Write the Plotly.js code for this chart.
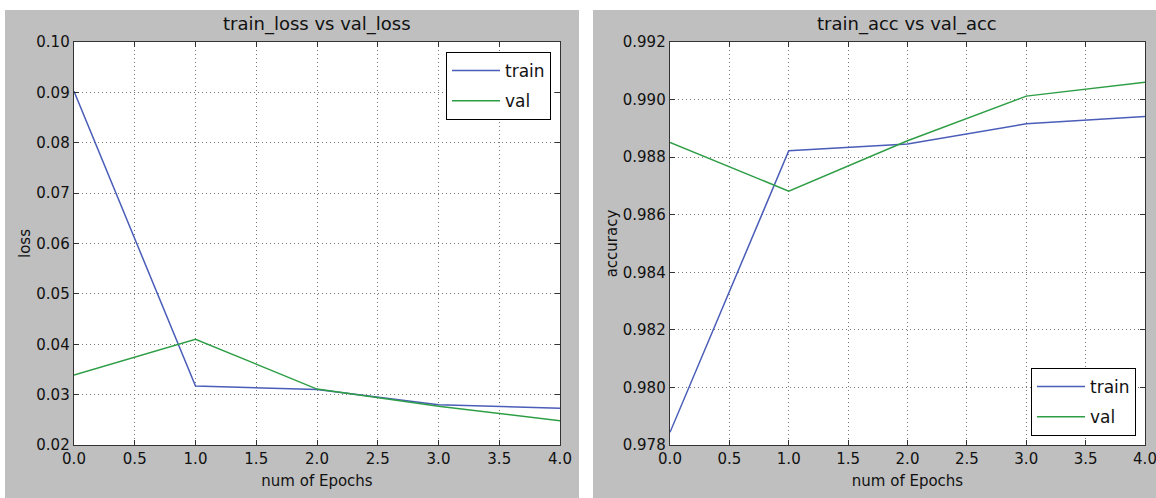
<!DOCTYPE html>
<html>
<head>
<meta charset="utf-8">
<script src="https://cdn.plot.ly/plotly-3.0.1.min.js"></script>
<style>html,body{margin:0;padding:0;background:#fff;} #chart{width:1156px;height:498px;}</style>
</head>
<body>
<div id="chart"></div>
<script>
// ---- data ----
const epochs = [0, 1, 2, 3, 4];
const trainLoss = [0.0902, 0.0317, 0.0310, 0.0280, 0.0273];
const valLoss   = [0.0339, 0.0410, 0.0311, 0.0277, 0.0248];
const trainAcc  = [0.97844, 0.98822, 0.98846, 0.98916, 0.98941];
const valAcc    = [0.98851, 0.98682, 0.98857, 0.99012, 0.99060];
const seriesNames = ['train', 'val'];
const titles = ['train_loss vs val_loss', 'train_acc vs val_acc'];
const xLabel = 'num of Epochs';
const yLabels = ['loss', 'accuracy'];
const xTickVals = [0, 0.5, 1, 1.5, 2, 2.5, 3, 3.5, 4];
const xTickText = ['0.0', '0.5', '1.0', '1.5', '2.0', '2.5', '3.0', '3.5', '4.0'];

// ---- geometry (figure pixels) ----
const W = 1156, H = 498;
const M = {l: 74, r: 11, t: 42, b: 53};
const PW = W - M.l - M.r, PH = H - M.t - M.b;
const px = v => (v - M.l) / PW;
const py = v => (H - M.b - v) / PH;

const BLUE = '#4a5db8', GREEN = '#2e9e46';
const FONT = 'DejaVu Sans, sans-serif';

const traces = [
  {x: epochs, y: trainLoss, name: seriesNames[0], xaxis: 'x', yaxis: 'y', legend: 'legend', legendgroup: 'a',
   mode: 'lines', line: {color: BLUE, width: 1.5}},
  {x: epochs, y: valLoss, name: seriesNames[1], xaxis: 'x', yaxis: 'y', legend: 'legend', legendgroup: 'b',
   mode: 'lines', line: {color: GREEN, width: 1.5}},
  {x: epochs, y: trainAcc, name: seriesNames[0], xaxis: 'x2', yaxis: 'y2', legend: 'legend2', legendgroup: 'c',
   mode: 'lines', line: {color: BLUE, width: 1.5}},
  {x: epochs, y: valAcc, name: seriesNames[1], xaxis: 'x2', yaxis: 'y2', legend: 'legend2', legendgroup: 'd',
   mode: 'lines', line: {color: GREEN, width: 1.5}}
];

const axCommon = {
  showline: true, linecolor: '#333', linewidth: 1.3, mirror: 'ticks',
  ticks: 'inside', ticklen: 5, tickcolor: '#333', tickwidth: 1,
  showgrid: true, gridcolor: '#777', griddash: '1px,3px', gridwidth: 1,
  zeroline: false, tickfont: {family: FONT, size: 15, color: '#111'},
  ticklabeloverflow: 'allow'
};
const xAx = (dom, anchor) => Object.assign({}, axCommon, {
  domain: dom, anchor: anchor, range: [0, 4], tickmode: 'array',
  tickvals: xTickVals, ticktext: xTickText,
  title: {text: xLabel, font: {family: FONT, size: 15, color: '#111'}, standoff: 8}
});

const legCommon = {
  bgcolor: '#fff', bordercolor: '#000', borderwidth: 1,
  font: {family: FONT, size: 17, color: '#111'},
  traceorder: 'grouped', tracegroupgap: 5, itemwidth: 48
};

const layout = {
  width: W, height: H,
  margin: M,
  paper_bgcolor: '#bfbfbf', plot_bgcolor: '#fff',
  showlegend: true,
  xaxis: xAx([0, px(560)], 'y'),
  xaxis2: xAx([px(670), 1], 'y2'),
  yaxis: Object.assign({}, axCommon, {domain: [0, 1], anchor: 'x', range: [0.02, 0.10], dtick: 0.01, tick0: 0.02, tickformat: '.2f',
    title: {text: yLabels[0], font: {family: FONT, size: 15, color: '#111'}}}),
  yaxis2: Object.assign({}, axCommon, {domain: [0, 1], anchor: 'x2', range: [0.978, 0.992], dtick: 0.002, tick0: 0.978, tickformat: '.3f',
    title: {text: yLabels[1], font: {family: FONT, size: 15, color: '#111'}}}),
  legend: Object.assign({}, legCommon, {x: px(551), xanchor: 'right', y: py(52), yanchor: 'top'}),
  legend2: Object.assign({}, legCommon, {x: px(1136), xanchor: 'right', y: py(436), yanchor: 'bottom'}),
  shapes: [
    {type: 'rect', xref: 'paper', yref: 'paper', x0: px(0), x1: px(1156), y0: py(10), y1: py(0),
     fillcolor: '#fff', line: {width: 0}, layer: 'below'},
    {type: 'rect', xref: 'paper', yref: 'paper', x0: px(0), x1: px(5), y0: py(498), y1: py(0),
     fillcolor: '#fff', line: {width: 0}, layer: 'below'},
    {type: 'rect', xref: 'paper', yref: 'paper', x0: px(579), x1: px(593), y0: py(498), y1: py(0),
     fillcolor: '#fff', line: {width: 0}, layer: 'below'}
  ],
  annotations: [
    {text: titles[0], xref: 'paper', yref: 'paper', x: px(317), y: py(37), xanchor: 'center', yanchor: 'bottom',
     showarrow: false, font: {family: FONT, size: 18, color: '#111'}},
    {text: titles[1], xref: 'paper', yref: 'paper', x: px(907), y: py(37), xanchor: 'center', yanchor: 'bottom',
     showarrow: false, font: {family: FONT, size: 18, color: '#111'}}
  ]
};

Plotly.newPlot('chart', traces, layout, {displayModeBar: false, staticPlot: true});
</script>
</body>
</html>
